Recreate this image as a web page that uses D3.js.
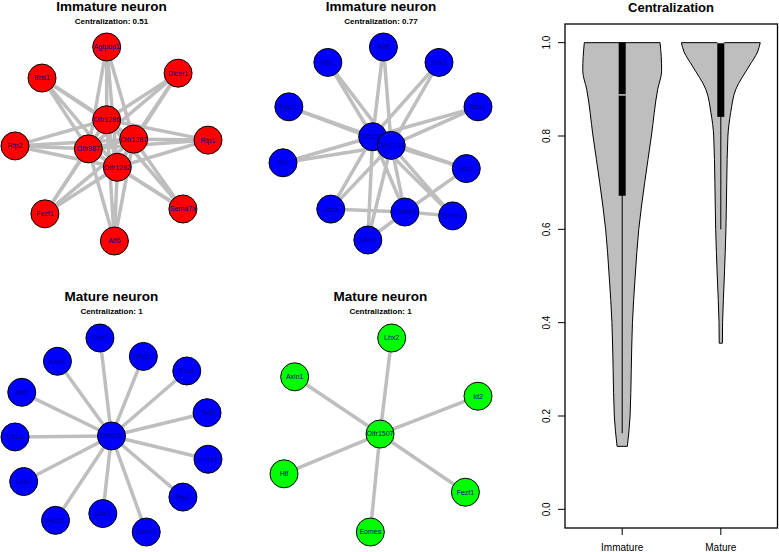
<!DOCTYPE html>
<html>
<head>
<meta charset="utf-8">
<script src="https://cdn.jsdelivr.net/npm/d3@7"></script>
<style>
  body { margin: 0; background: #fff; }
  svg { font-family: "Liberation Sans", Arial, Helvetica, sans-serif; }
</style>
</head>
<body>
<div id="chart"></div>
<script>
// network layouts (igraph-like coords in -1..1)
var immRedNodes = [
  ["Agtpbp1", -0.05, 1.00], ["Bbs1", -0.72, 0.68], ["Dicer1", 0.69, 0.73],
  ["Olfr1286", -0.05, 0.25], ["Olfr1287", 0.23, 0.05], ["Olfr987", -0.24, -0.05],
  ["Olfr1282", 0.06, -0.24], ["Rtp2", -1.00, -0.02], ["Rtp1", 1.00, 0.04],
  ["Fezf1", -0.69, -0.72], ["Sema7a", 0.74, -0.67], ["Atf6", 0.03, -1.00]
];
var immRedHubs = ["Olfr1286", "Olfr1287", "Olfr987", "Olfr1282"];

var immBlueNodes = [
  ["Atf6", 0.03, 1.00], ["Rtp1", -0.54, 0.84], ["Lhx2", 0.60, 0.84],
  ["Fezf1", -0.94, 0.38], ["Bbs1", 1.00, 0.38], ["Olfr1507", -0.08, 0.07],
  ["Olfr1338", 0.11, -0.02], ["Srf", -1.00, -0.20], ["Slit1", 0.88, -0.26],
  ["Uncx", -0.51, -0.68], ["Shank1", 0.25, -0.71], ["Dicer1", 0.74, -0.75],
  ["Ubr3", -0.13, -1.00]
];
var immBlueHubs = ["Olfr1507", "Olfr1338"];
var immBlueExtra = [["Uncx", "Shank1"], ["Shank1", "Dicer1"], ["Shank1", "Slit1"], ["Ubr3", "Shank1"]];

var matBlueNodes = [
  ["Chd7", -0.12, 1.00], ["Axin1", -0.56, 0.76], ["Rtp1", 0.33, 0.81],
  ["Pcnt", 0.78, 0.66], ["Atf6", -0.93, 0.44], ["Tle3", 0.99, 0.23],
  ["Olfr578", 0.00, -0.01], ["Uncx", -1.00, -0.02], ["Hesx1", 1.00, -0.25],
  ["Lhx2", -0.91, -0.48], ["Rtp2", 0.74, -0.64], ["Fezf1", -0.58, -0.88],
  ["Ubr3", -0.09, -0.81], ["Dicer1", 0.36, -1.00]
];
var matBlueHubs = ["Olfr578"];

var matGreenNodes = [
  ["Lhx2", 0.11, 1.00], ["Axin1", -0.89, 0.60], ["Id2", 1.00, 0.40],
  ["Olfr1507", -0.01, 0.01], ["Hlf", -1.00, -0.40], ["Fezf1", 0.87, -0.59],
  ["Eomes", -0.11, -1.00]
];
var matGreenHubs = ["Olfr1507"];

var panelTitles = ["Immature neuron", "Immature neuron", "Mature neuron", "Mature neuron"];
var centralization = ["0.51", "0.77", "1", "1"];

// violin data: [value, relative density]
var groups = ["Immature", "Mature"];
var immProfile = [[0.135, 0.13], [0.2, 0.2], [0.3, 0.23], [0.4, 0.26], [0.5, 0.33], [0.6, 0.42],
  [0.7, 0.57], [0.8, 0.74], [0.9, 0.9], [0.94, 1.0], [0.97, 0.99], [1.0, 0.96]];
var matProfile = [[0.356, 0.04], [0.4, 0.045], [0.5, 0.09], [0.6, 0.13], [0.7, 0.15], [0.8, 0.18],
  [0.85, 0.25], [0.9, 0.38], [0.95, 0.72], [0.98, 0.93], [1.0, 1.0]];
var boxStats = [
  { lo: 0.163, q1: 0.672, med: 0.888, q3: 1.0, hi: 1.0 },
  { lo: 0.6, q1: 0.841, med: 1.0, q3: 1.0, hi: 1.0 }
];
var yTicks = [0, 0.2, 0.4, 0.6, 0.8, 1.0];

var svg = d3.select("#chart").append("svg")
  .attr("width", 779).attr("height", 552);

function buildEdges(nodes, hubs, extra) {
  var edges = [];
  var names = nodes.map(d => d[0]);
  hubs.forEach(function(h, i) {
    // hub to hub
    hubs.slice(i + 1).forEach(h2 => edges.push([h, h2]));
    names.forEach(function(n) {
      if (hubs.indexOf(n) < 0) edges.push([h, n]);
    });
  });
  (extra || []).forEach(e => edges.push(e));
  return edges;
}

function drawNetwork(nodes, hubs, extra, color, xr, yr, cx, titleY, idx) {
  var x = d3.scaleLinear().domain([-1, 1]).range(xr);
  var y = d3.scaleLinear().domain([1, -1]).range(yr);
  var pos = {};
  nodes.forEach(d => pos[d[0]] = d);
  var g = svg.append("g");

  g.append("text").attr("x", cx).attr("y", titleY)
    .attr("text-anchor", "middle").attr("font-weight", "bold").attr("font-size", 13.5)
    .text(panelTitles[idx]);
  g.append("text").attr("x", cx).attr("y", titleY + 13)
    .attr("text-anchor", "middle").attr("font-weight", "bold").attr("font-size", 8)
    .text("Centralization: " + centralization[idx]);

  var edges = buildEdges(nodes, hubs, extra);
  g.selectAll("line.edge").data(edges).enter().append("line")
    .attr("class", "edge")
    .attr("x1", d => x(pos[d[0]][1])).attr("y1", d => y(pos[d[0]][2]))
    .attr("x2", d => x(pos[d[1]][1])).attr("y2", d => y(pos[d[1]][2]))
    .attr("stroke", "#bebebe").attr("stroke-width", 3.5);

  var nd = g.selectAll("g.node").data(nodes).enter().append("g")
    .attr("transform", d => `translate(${x(d[1])},${y(d[2])})`);
  nd.append("circle").attr("r", 14)
    .attr("fill", color).attr("stroke", "#000").attr("stroke-width", 1);
  nd.append("text").attr("text-anchor", "middle").attr("dy", "0.35em")
    .attr("font-size", 7).attr("fill", "#00008b")
    .text(d => d[0]);
}

drawNetwork(immRedNodes, immRedHubs, null, "#ff0000", [15, 208], [47, 241], 111.5, 11, 0);
drawNetwork(immBlueNodes, immBlueHubs, immBlueExtra, "#0000ff", [283, 478], [47, 240], 381, 11, 1);
drawNetwork(matBlueNodes, matBlueHubs, null, "#0000ff", [15, 208], [338, 532], 111.5, 301, 2);
drawNetwork(matGreenNodes, matGreenHubs, null, "#00ff00", [284, 478], [338, 532], 380.5, 301, 3);

// violin plot
var vx = d3.scaleLinear().domain([0.42, 2.58]).range([565, 778]);
var vy = d3.scaleLinear().domain([-0.04, 1.04]).range([528, 24]);
var unit = vx(1) - vx(0);
var vg = svg.append("g");

vg.append("text").attr("x", 671).attr("y", 11.5)
  .attr("text-anchor", "middle").attr("font-weight", "bold").attr("font-size", 13)
  .text("Centralization");

[immProfile, matProfile].forEach(function(prof, i) {
  var c = i + 1;
  var area = d3.area()
    .curve(d3.curveMonotoneY)
    .y(d => vy(d[0]))
    .x0(d => vx(c) - d[1] * 0.4 * unit)
    .x1(d => vx(c) + d[1] * 0.4 * unit);
  vg.append("path").datum(prof).attr("d", area)
    .attr("fill", "#bebebe").attr("stroke", "#000").attr("stroke-width", 1);
  var b = boxStats[i];
  vg.append("line").attr("x1", vx(c)).attr("x2", vx(c))
    .attr("y1", vy(b.lo)).attr("y2", vy(b.hi))
    .attr("stroke", "#000").attr("stroke-width", 1);
  vg.append("rect").attr("x", vx(c) - 3.5).attr("width", 7)
    .attr("y", vy(b.q3)).attr("height", vy(b.q1) - vy(b.q3))
    .attr("fill", "#000");
  vg.append("line").attr("x1", vx(c) - 3.5).attr("x2", vx(c) + 3.5)
    .attr("y1", vy(b.med)).attr("y2", vy(b.med))
    .attr("stroke", "#fff").attr("stroke-width", 1.2);
});

vg.append("rect").attr("x", 565).attr("y", 24).attr("width", 212.5).attr("height", 504)
  .attr("fill", "none").attr("stroke", "#000").attr("stroke-width", 1.3);

var yAxis = vg.append("g");
yAxis.selectAll("line").data(yTicks).enter().append("line")
  .attr("x1", 558).attr("x2", 565).attr("y1", d => vy(d)).attr("y2", d => vy(d))
  .attr("stroke", "#000");
yAxis.selectAll("text").data(yTicks).enter().append("text")
  .attr("transform", d => `translate(550,${vy(d)}) rotate(-90)`)
  .attr("text-anchor", "middle").attr("font-size", 10)
  .text(d => d3.format(".1f")(d));

var xAxis = vg.append("g");
xAxis.selectAll("line").data(groups).enter().append("line")
  .attr("x1", (d, i) => vx(i + 1)).attr("x2", (d, i) => vx(i + 1))
  .attr("y1", 528).attr("y2", 535).attr("stroke", "#000");
xAxis.selectAll("text").data(groups).enter().append("text")
  .attr("x", (d, i) => vx(i + 1)).attr("y", 551)
  .attr("text-anchor", "middle").attr("font-size", 10)
  .text(d => d);
</script>
</body>
</html>
